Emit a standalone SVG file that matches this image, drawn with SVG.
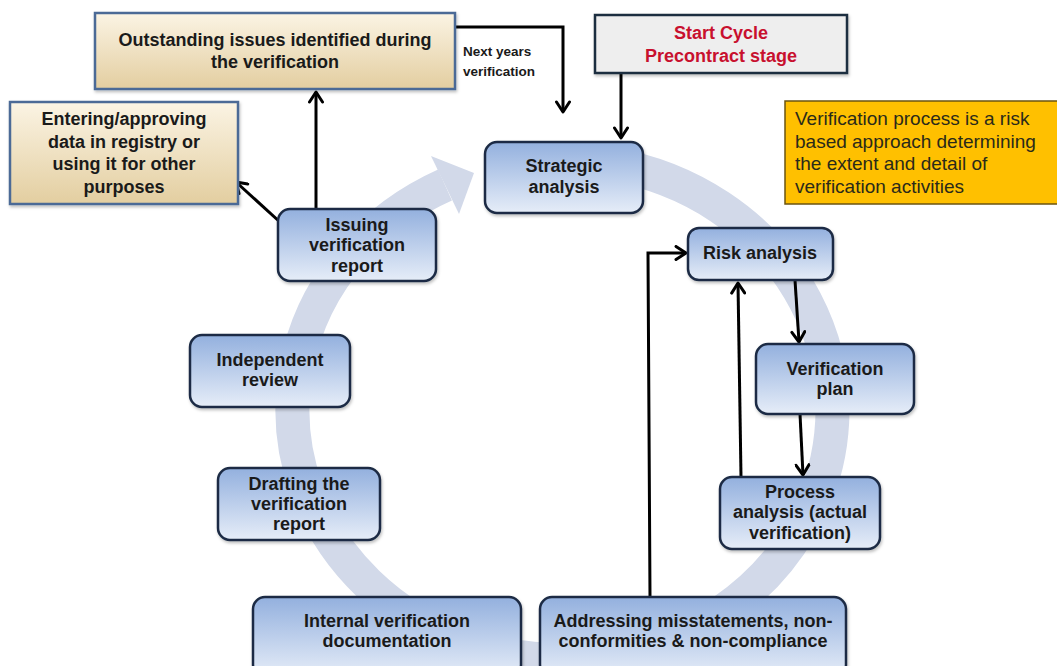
<svg xmlns="http://www.w3.org/2000/svg" width="1057" height="666" viewBox="0 0 1057 666">
<defs>
<linearGradient id="gBlue" x1="0" y1="0" x2="0" y2="1">
<stop offset="0" stop-color="#93b0de"/>
<stop offset="1" stop-color="#e6edf8"/>
</linearGradient>
<linearGradient id="gTan" x1="0" y1="0" x2="0" y2="1">
<stop offset="0" stop-color="#fbf4e4"/>
<stop offset="1" stop-color="#e3cea0"/>
</linearGradient>
<filter id="sh" x="-10%" y="-10%" width="130%" height="140%">
<feDropShadow dx="1" dy="2" stdDeviation="1.5" flood-color="#000" flood-opacity="0.25"/>
</filter>
<marker id="arr" viewBox="0 0 14 16" refX="12" refY="8" markerWidth="14" markerHeight="16" markerUnits="userSpaceOnUse" orient="auto">
<path d="M2,1.5 L12,8 L2,14.5" fill="none" stroke="#000" stroke-width="3" stroke-linecap="round" stroke-linejoin="round"/>
</marker>
<style>
.blue{fill:url(#gBlue);stroke:#1d2c44;stroke-width:2.5;filter:url(#sh)}
.tan{fill:url(#gTan);stroke:#4b6b96;stroke-width:2.5;filter:url(#sh)}
.t{font-family:"Liberation Sans",Arial,sans-serif;font-weight:bold;font-size:18px;fill:#1a1a1a;text-anchor:middle}
.lbl{font-family:"Liberation Sans",Arial,sans-serif;font-weight:bold;font-size:13.5px;fill:#1a1a1a}
.red{fill:#c8102e}
.note{font-family:"Liberation Sans",Arial,sans-serif;font-size:19px;fill:#2a2a1a}
.con{fill:none;stroke:#000;stroke-width:3;marker-end:url(#arr)}
</style>
</defs>
<rect width="1057" height="666" fill="#ffffff"/>
<g id="cycle-ring">
<path d="M610,164 A270,250 0 1 1 445,185" fill="none" stroke="#d2d9e9" stroke-width="34"/>
<polygon points="431,156 474,173 459,214" fill="#d2d9e9"/>
</g>
<g id="connectors">
<path class="con" d="M455,27 H563 V112"/>
<path class="con" d="M621,73 V138"/>
<path class="con" d="M316,209 V92"/>
<path class="con" d="M281,223 L236,182"/>
<path class="con" d="M795,280 L799,342"/>
<path class="con" d="M800,414 L803,475"/>
<path class="con" d="M741,477 L738,283"/>
<path class="con" d="M650,597 L648,253 L686,253"/>
<text class="lbl" x="463" y="56">Next years</text>
<text class="lbl" x="463" y="76">verification</text>
</g>
<g id="outstanding">
<rect class="tan" x="95" y="13" width="360" height="76"/>
<text class="t" x="275" y="46">Outstanding issues identified during</text>
<text class="t" x="275" y="68">the verification</text>
</g>
<g id="entering">
<rect class="tan" x="10" y="102" width="228" height="102"/>
<text class="t" x="124" y="125">Entering/approving</text>
<text class="t" x="124" y="148">data in registry or</text>
<text class="t" x="124" y="170">using it for other</text>
<text class="t" x="124" y="193">purposes</text>
</g>
<g id="start-cycle">
<rect x="595" y="15" width="252" height="58" fill="#eeeeee" stroke="#1e2e40" stroke-width="2.5" filter="url(#sh)"/>
<text class="t red" x="721" y="39">Start Cycle</text>
<text class="t red" x="721" y="62">Precontract stage</text>
</g>
<g id="note">
<rect x="785" y="101" width="280" height="103" fill="#ffc000" stroke="#6b5410" stroke-width="1.5"/>
<text class="note" x="795" y="125">Verification process is a risk</text>
<text class="note" x="795" y="148">based approach determining</text>
<text class="note" x="795" y="170">the extent and detail of</text>
<text class="note" x="795" y="193">verification activities</text>
</g>
<g id="strategic-analysis">
<rect class="blue" x="485" y="142" width="158" height="71" rx="12"/>
<text class="t" x="564" y="172">Strategic</text>
<text class="t" x="564" y="193">analysis</text>
</g>
<g id="risk-analysis">
<rect class="blue" x="688" y="228" width="145" height="52" rx="11"/>
<text class="t" x="760" y="259">Risk analysis</text>
</g>
<g id="verification-plan">
<rect class="blue" x="756" y="344" width="158" height="70" rx="12"/>
<text class="t" x="835" y="375">Verification</text>
<text class="t" x="835" y="395">plan</text>
</g>
<g id="process-analysis">
<rect class="blue" x="720" y="477" width="160" height="72" rx="12"/>
<text class="t" x="800" y="498">Process</text>
<text class="t" x="800" y="518">analysis (actual</text>
<text class="t" x="800" y="539">verification)</text>
</g>
<g id="addressing">
<rect class="blue" x="540" y="597" width="306" height="80" rx="12"/>
<text class="t" x="693" y="627">Addressing misstatements, non-</text>
<text class="t" x="693" y="647">conformities &amp; non-compliance</text>
</g>
<g id="internal-documentation">
<rect class="blue" x="253" y="597" width="268" height="80" rx="12"/>
<text class="t" x="387" y="627">Internal verification</text>
<text class="t" x="387" y="647">documentation</text>
</g>
<g id="drafting">
<rect class="blue" x="218" y="468" width="162" height="72" rx="12"/>
<text class="t" x="299" y="490">Drafting the</text>
<text class="t" x="299" y="510">verification</text>
<text class="t" x="299" y="530">report</text>
</g>
<g id="independent-review">
<rect class="blue" x="190" y="335" width="160" height="72" rx="12"/>
<text class="t" x="270" y="366">Independent</text>
<text class="t" x="270" y="386">review</text>
</g>
<g id="issuing-report">
<rect class="blue" x="278" y="209" width="158" height="72" rx="12"/>
<text class="t" x="357" y="231">Issuing</text>
<text class="t" x="357" y="251">verification</text>
<text class="t" x="357" y="272">report</text>
</g>
</svg>
